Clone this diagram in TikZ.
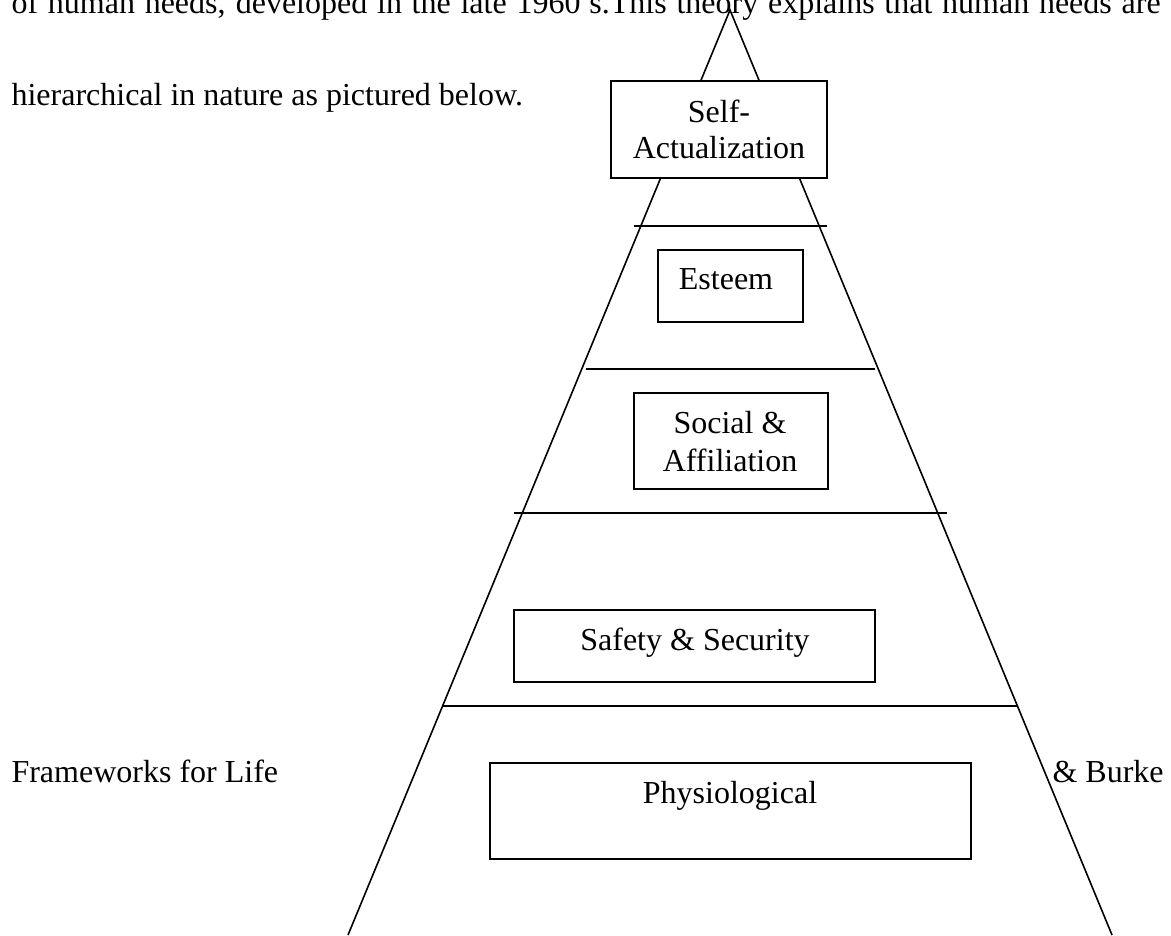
\documentclass[tikz,border=0pt]{standalone}
\usepackage{fontspec}
\setmainfont{Liberation Serif}
\usetikzlibrary{fit}

\begin{document}
\begin{tikzpicture}[
    x=0.375pt, y=-0.375pt,
    needbox/.style  = {rectangle, draw, line width=0.75pt, fill=white, inner sep=0pt},
    needtext/.style = {anchor=base, inner sep=0pt, font=\fontsize{12}{14}\selectfont},
    bodytext/.style = {anchor=base west, inner sep=0pt, font=\fontsize{12}{14}\selectfont},
    tier/.style     = {line width=0.6pt}
  ]
  \useasboundingbox (0,0) rectangle (1171,935);
  \clip (0,0) rectangle (1171,935);

  % running text around the figure
  \node[bodytext] (introa) at (11,13)
    {\makebox[430.9pt][s]{of human needs, developed in the late 1960's.This theory explains that human needs are}};
  \node[bodytext] (introb) at (11,105) {hierarchical in nature as pictured below.};
  \node[bodytext] (leftcut)  at (11,782)   {Frameworks for Life};
  \node[bodytext] (rightcut) at (1052,782) {\& Burke};

  % pyramid outline
  \coordinate (apex)  at (730,10);
  \coordinate (baseL) at (348,935);
  \coordinate (baseR) at (1112,935);
  \draw[tier] (baseL) -- (apex) -- (baseR);

  % tier dividers
  \draw[tier] (634,226) -- (827,226);
  \draw[tier] (586,369) -- (875,369);
  \draw[tier] (514,513) -- (947,513);
  \draw[tier] (443,706) -- (1018,706);

  % need boxes
  \node[needbox, fit={(611,81) (827,178)}]  (selfbox)   {};
  \node[needbox, fit={(658,250) (803,322)}] (esteembox) {};
  \node[needbox, fit={(634,393) (828,489)}] (socialbox) {};
  \node[needbox, fit={(514,610) (875,682)}] (safetybox) {};
  \node[needbox, fit={(490,763) (971,859)}] (physiobox) {};

  \node[needtext] (selfa)   at (719,122) {Self-};
  \node[needtext] (selfb)   at (719,158) {Actualization};
  \node[needtext] (esteem)  at (726,289) {Esteem};
  \node[needtext] (sociala) at (730,433) {Social \&};
  \node[needtext] (socialb) at (730,471) {Affiliation};
  \node[needtext] (safety)  at (695,650) {Safety \& Security};
  \node[needtext] (physio)  at (730,803) {Physiological};
\end{tikzpicture}
\end{document}
